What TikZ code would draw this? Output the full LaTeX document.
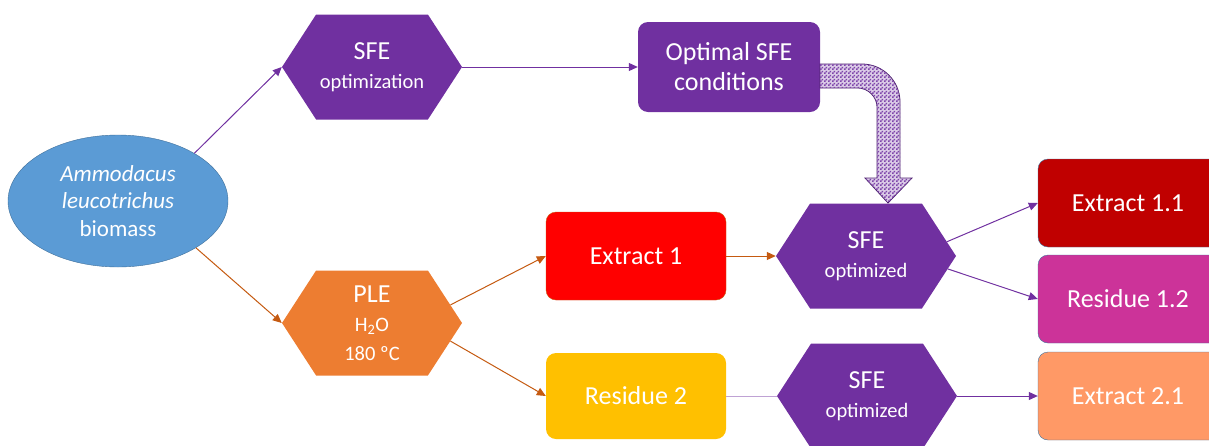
\documentclass[tikz,border=0pt]{standalone}
\usepackage{fontspec}
\setmainfont{Carlito}
\usetikzlibrary{shapes.geometric,shapes.symbols,arrows.meta,patterns}

\definecolor{sfepurple}{HTML}{7030A0}
\definecolor{biofill}{HTML}{5B9BD5}
\definecolor{bioedge}{HTML}{41719C}
\definecolor{pleorange}{HTML}{ED7D31}
\definecolor{arroworange}{HTML}{C55A11}
\definecolor{resyellow}{HTML}{FFC000}
\definecolor{extred}{HTML}{C00000}
\definecolor{resmagenta}{HTML}{CC3399}
\definecolor{extsalmon}{HTML}{FF9966}

\pgfdeclarepatternformonly{finecheck}{\pgfqpoint{0pt}{0pt}}{\pgfqpoint{4pt}{4pt}}{\pgfqpoint{4pt}{4pt}}{%
    \pgfpathrectangle{\pgfqpoint{0pt}{0pt}}{\pgfqpoint{2pt}{2pt}}%
    \pgfpathrectangle{\pgfqpoint{2pt}{2pt}}{\pgfqpoint{2pt}{2pt}}%
    \pgfusepath{fill}}

\newcommand{\subtxt}[1]{{\fontsize{20.5}{24}\selectfont #1}}

\tikzset{
    hexa/.style={signal, signal to=west and east, signal pointer angle=114,
        minimum width=180pt, minimum height=105pt, inner sep=0pt,
        text=white, align=center, font=\fontsize{26}{29}\selectfont},
    stagebox/.style={rounded corners=10pt, minimum width=180pt, minimum height=88pt,
        text=white, align=center, font=\fontsize{26}{30}\selectfont},
    parr/.style={draw=sfepurple, line width=1pt, -{Triangle[length=9pt,width=8pt]}},
    oarr/.style={draw=arroworange, line width=1pt, -{Triangle[length=9pt,width=8pt]}},
}

\begin{document}
\begin{tikzpicture}[x=1pt,y=-1pt]
        \useasboundingbox (0,0) rectangle (1209,445);

        \node[ellipse, draw=bioedge, fill=biofill, minimum width=220pt, minimum height=132pt,
            text=white, align=center, font=\fontsize{23}{27.5}\selectfont] (bio) at (118,201)
            {\textit{Ammodacus}\\\textit{leucotrichus}\\biomass};
        \node[hexa, fill=sfepurple] (sfeopt) at (372,67) {SFE\\\subtxt{optimization}};
        \node[stagebox, fill=sfepurple, minimum width=182pt, minimum height=90pt] (cond) at (729,67) {Optimal SFE\\conditions};
        \node[hexa, fill=pleorange] (ple) at (372,323) {PLE\\\subtxt{H\textsubscript{2}O}\\\subtxt{180 ºC}};
        \node[stagebox, fill=red, draw=arroworange] (ext1) at (636,256) {Extract 1};
        \node[stagebox, fill=resyellow, minimum height=86pt] (res2) at (636,396) {Residue 2};
        \node[hexa, fill=sfepurple] (sfe2) at (866,256) {SFE\\\subtxt{optimized}};
        \node[hexa, fill=sfepurple] (sfe3) at (867,396) {SFE\\\subtxt{optimized}};
        \node[stagebox, fill=extred, draw=bioedge, minimum width=190pt] (ext11) at (1133,203) {\hspace*{-10pt}Extract 1.1};
        \node[stagebox, fill=resmagenta, draw=bioedge, minimum width=190pt] (res12) at (1133,299) {\hspace*{-10pt}Residue 1.2};
        \node[stagebox, fill=extsalmon, draw=bioedge, minimum width=190pt] (ext21) at (1133,396) {\hspace*{-10pt}Extract 2.1};

        % optimal conditions passed on to the extraction step
        \draw[draw=sfepurple!70!black, line width=0.8pt, fill=sfepurple!25,
            postaction={pattern=finecheck, pattern color=sfepurple!90}]
            (820,64) -- (862,64) .. controls (883,64) and (900,81) .. (900,102)
            -- (900,178) -- (912,178) -- (888,203) -- (865,178) -- (877,178)
            -- (877,107) .. controls (877,97) and (868,88) .. (858,88)
            -- (820,88) -- cycle;

        \draw[parr] (bio.32) -- (sfeopt.west);
        \draw[parr] (sfeopt.east) -- (cond.west);
        \draw[oarr] (bio.-31) -- (ple.west);
        \draw[oarr] (ple.13) -- (ext1.west);
        \draw[oarr] (ple.-13) -- (res2.west);
        \draw[oarr] (ext1.east) -- (sfe2.west);
        \draw[parr] (sfe2.10) -- (ext11.west);
        \draw[parr] (sfe2.-9) -- (res12.west);
        \draw[sfepurple!45, line width=1pt] (res2.east) -- (sfe3.west);
        \draw[parr] (sfe3.east) -- (ext21.west);

    \end{tikzpicture}
\end{document}
